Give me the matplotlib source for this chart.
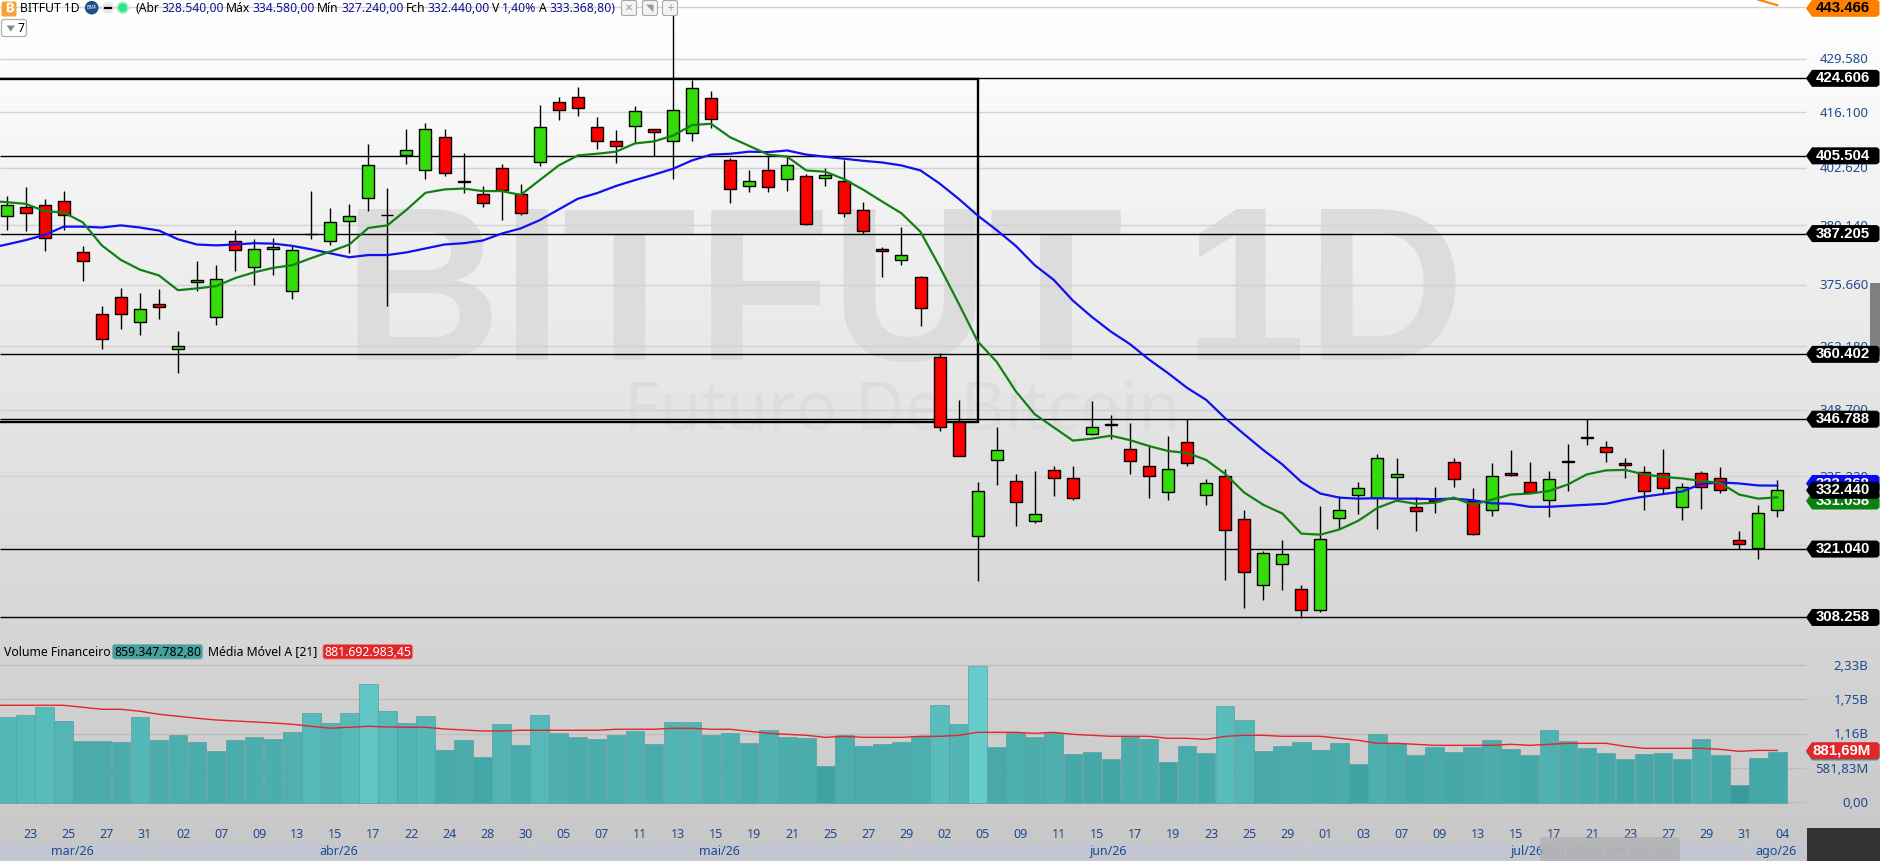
import numpy as np
import matplotlib
matplotlib.use("Agg")
import matplotlib.pyplot as plt
from matplotlib.patches import Rectangle, Polygon, Circle, FancyBboxPatch
from matplotlib.transforms import blended_transform_factory

plt.rcParams['font.family'] = ['Noto Sans', 'DejaVu Sans']

opens = [391.2,393.3,393.8,394.7,382.9,369.1,372.9,367.5,371.3,361.6,
376.2,368.4,385.4,379.6,383.6,374.2,387.1,385.6,390.0,395.4,
391.6,405.7,402.2,410.0,399.5,396.4,402.7,396.4,404.1,418.6,
419.9,412.4,409.0,412.7,411.9,409.2,411.0,419.6,404.6,398.2,
402.0,399.9,400.6,400.3,399.6,392.6,383.6,381.2,377.4,359.9,
346.3,323.6,338.5,334.3,326.4,336.5,334.9,343.8,345.7,340.7,
337.3,332.1,342.2,331.6,335.3,326.8,314.2,318.2,313.5,309.7,
327.0,331.6,331.0,335.1,329.2,330.8,338.1,330.4,328.6,335.9,
334.1,330.6,338.2,343.1,341.1,337.8,336.1,335.9,329.2,335.9,
334.9,322.8,321.2,328.54]
highs = [396.0,398.1,395.2,397.1,384.4,370.9,375.0,373.8,374.7,365.4,
381.0,380.1,388.0,385.9,386.2,384.6,397.1,393.1,394.1,408.3,
397.8,412.0,413.5,412.0,406.3,398.3,403.5,398.8,418.0,420.0,
422.4,415.0,411.8,417.7,412.0,445.5,424.2,421.5,404.9,402.1,
405.6,405.6,401.1,402.5,404.4,394.6,384.1,388.7,377.5,360.6,
350.8,334.0,345.1,335.6,336.2,337.2,337.2,350.6,347.7,346.1,
341.5,343.3,346.8,334.6,336.6,328.6,320.7,322.7,314.3,329.4,
331.4,334.0,339.7,338.9,331.2,333.0,338.8,332.8,337.8,340.5,
338.0,336.2,341.7,346.8,342.3,338.9,337.2,340.7,333.8,336.2,
337.0,324.5,329.6,334.58]
lows = [388.0,387.8,383.3,388.1,376.4,361.5,365.8,364.5,368.0,356.4,
374.3,366.7,378.6,375.6,377.9,372.5,386.0,384.6,382.7,392.5,
371.0,403.5,399.9,400.7,396.7,393.4,390.3,391.5,403.1,414.3,
415.3,407.1,403.7,408.5,405.5,399.9,409.1,412.3,394.2,397.0,
397.0,397.2,389.2,398.4,391.1,387.2,377.3,380.0,366.5,344.4,
339.2,315.1,333.5,325.5,326.1,331.3,330.5,343.5,342.7,335.6,
330.9,330.6,337.2,329.5,315.2,310.0,311.5,313.4,308.2,309.3,
324.9,327.7,324.8,330.8,324.5,327.9,333.0,323.7,327.5,335.2,
332.0,327.3,332.3,341.5,338.0,334.8,328.5,331.9,326.7,328.8,
332.0,321.0,319.2,327.24]
closes = [393.8,391.9,386.1,391.4,380.9,363.7,369.1,370.2,370.6,362.1,
376.7,376.9,383.4,383.6,384.1,383.4,387.0,389.8,391.2,403.4,
391.4,407.0,411.9,401.3,399.3,394.2,397.3,391.9,412.4,416.7,
417.2,409.2,408.0,416.4,411.2,416.7,422.1,414.4,397.5,399.6,
398.0,403.4,389.3,400.8,391.9,387.7,383.2,382.3,370.4,345.2,
339.3,332.3,340.5,330.2,327.8,334.9,330.9,345.2,345.5,338.3,
335.3,336.7,337.9,333.9,324.6,316.7,320.2,320.1,309.7,323.0,
328.6,332.9,338.9,335.7,328.4,330.4,334.7,324.0,335.3,335.5,
332.1,334.7,338.0,342.9,340.1,337.4,332.3,332.9,333.1,333.1,
332.5,322.0,328.0,332.44]
# the averages begin one session before the first visible candle
ma_fast = [394.8,394.5,394.1,392.4,392.1,389.8,384.5,381.2,379.0,377.7,374.4,
374.8,375.3,377.1,378.4,379.4,380.0,381.6,383.1,384.7,388.5,
389.1,392.7,396.7,397.5,397.7,397.1,397.1,396.2,399.7,403.2,
405.6,406.0,406.5,408.5,409.0,410.4,413.0,413.3,410.0,407.9,
405.8,405.3,402.0,401.7,399.9,397.4,394.6,391.9,387.6,379.7,
371.5,363.2,358.8,352.6,347.8,345.1,342.4,342.8,343.4,342.5,
341.3,340.3,339.9,338.5,335.7,332.0,329.6,327.9,324.0,323.8,
324.8,326.5,329.0,330.4,329.8,330.0,331.0,329.6,330.6,331.6,
331.8,332.3,333.6,335.6,336.4,336.5,335.6,335.1,334.8,334.3,
333.9,331.6,330.8,331.06]
ma_slow = [383.8,384.7,385.7,386.9,388.8,388.8,388.6,389.1,388.6,387.9,385.9,
384.7,384.5,384.7,385.0,384.9,384.4,383.6,382.7,381.8,382.3,
382.3,382.9,383.8,384.7,385.0,385.6,387.2,388.4,390.3,392.8,
395.3,396.6,398.3,399.7,401.0,402.4,404.4,405.8,406.0,406.5,
406.4,406.8,405.8,405.3,404.8,404.3,403.9,403.2,402.0,398.9,
395.3,391.4,388.0,384.4,380.0,376.7,372.1,368.5,365.3,362.6,
359.3,356.4,353.3,350.8,347.0,343.7,340.5,337.6,334.1,331.8,
331.0,330.8,330.9,330.8,330.8,330.7,330.8,330.5,329.9,329.8,
329.2,329.2,329.4,329.6,329.8,330.6,331.2,331.7,332.2,333.7,
334.0,333.8,333.4,333.37]
ma_long_tail = [444.9, 443.466]  # last two sessions of the orange average

volume_m = [1451,1485,1621,1383,1043,1043,1026,1451,1060,1145,
1026,873,1060,1111,1077,1196,1519,1349,1519,2012,
1553,1349,1468,890,1060,771,1332,975,1485,1179,
1111,1077,1145,1213,992,1366,1366,1145,1179,1009,
1230,1111,1094,618,1145,958,992,1026,1128,1655,
1332,2319,941,1179,1111,1179,822,856,737,1111,
1077,686,958,839,1638,1400,873,958,1026,890,
1009,652,1162,1009,805,941,856,941,1060,907,
805,1230,1043,924,839,737,822,839,737,1077,
805,295,754,859]
vol_ma_m = [1650,1650,1650,1650,1650,1616,1582,1582,1548,1497,1463,
1429,1400,1383,1366,1349,1327,1293,1259,1276,1293,
1281,1276,1276,1247,1230,1213,1213,1225,1225,1225,
1225,1225,1242,1242,1242,1259,1259,1242,1242,1207,
1173,1156,1139,1105,1122,1105,1105,1105,1122,1122,
1139,1190,1190,1190,1173,1190,1156,1139,1122,1122,
1122,1088,1088,1071,1122,1139,1139,1122,1122,1122,
1088,1054,1003,1003,986,969,969,969,969,986,
969,986,1003,1003,1003,952,918,918,918,918,
901,867,884,881]

day_labels = ["23","25","27","31","02","07","09","13","15","17","22","24","28","30",
"05","07","11","13","15","19","21","25","27","29","02","05","09","11","15","17","19","23","25","29",
"01","03","07","09","13","15","17","21","23","27","29","31","04"]
month_labels = ["mar/26","abr/26","mai/26","jun/26","jul/26","ago/26"]
price_grid = [443.06,429.58,416.10,402.62,389.14,375.66,362.18,348.70,335.22,321.74]
price_grid_labels = ["443.060","429.580","416.100","402.620","389.140","375.660","362.180","348.700","335.220","321.740"]
levels = [424.606,405.504,387.205,360.402,346.788,321.040,308.258]
level_labels = ["424.606","405.504","387.205","360.402","346.788","321.040","308.258"]
vol_grid = [0,581.83,1163.66,1750,2330]
vol_grid_labels = ["0,00","581,83M","1,16B","1,75B","2,33B"]

W, H = 1880, 861
NAVY = "#1F4B8F"
fig = plt.figure(figsize=(W/100, H/100), dpi=100)

# background gradient and watermark
bg = fig.add_axes([0, 0, 1, 1], zorder=0)
grad = np.interp(np.linspace(0, 1, H), [0, 830/H, 1], [1.0, 0.785, 0.785])[:, None]
bg.imshow(grad, cmap="gray", vmin=0, vmax=1, extent=(0, W, H, 0), aspect="auto")
bg.set_xlim(0, W); bg.set_ylim(H, 0); bg.axis("off")
bg.text(904, 360, "BITFUT 1D", ha="center", va="baseline", fontsize=158, fontweight="bold",
        family="Liberation Sans", color="#DCDCDC")
bg.text(902, 430, "Futuro De Bitcoin", ha="center", va="baseline", fontsize=49,
        family="Noto Sans", color="#DDDDDD")

# shared x mapping: candle i centre = 6.6 + 19.04 i px
x_left, x_right = (0-6.6)/19.04, (W-6.6)/19.04
x_plot_end = (1806-6.6)/19.04
n = len(opens)
idx = np.arange(n)
idx_ma = np.arange(-1, n)

# price panel
ax = fig.add_axes([0, 1-640/H, 1, 640/H], zorder=2)
ax.patch.set_alpha(0)
ax.set_yscale("log")
ax.set_xlim(x_left, x_right)
ax.set_ylim(304.16, 444.83)
ax.axis("off")
ax.hlines(price_grid, x_left, x_plot_end, color="#D2D2D2", lw=1.0, zorder=1)
ax.hlines(levels, x_left, x_plot_end, color="black", lw=1.0, zorder=2)

# drawn rectangle
box_x = (978-6.6)/19.04
ax.plot([x_left, box_x, box_x, x_left], [424.5, 424.5, 346.15, 346.15], color="black", lw=1.7, zorder=2.5,
        solid_joinstyle="miter")

o, h, l, c = map(np.array, (opens, highs, lows, closes))
ax.vlines(idx, l, h, color="black", lw=1.0, zorder=3)
up = c >= o
tops, bots = np.maximum(o, c), np.minimum(o, c)
cols = np.where(up, "#35DB0A", "#FF0000")
ax.bar(idx, tops-bots, bottom=bots, width=0.63, color=cols, edgecolor="black", lw=1.0, zorder=4)
ax.plot(idx_ma, ma_slow, color="#1010F0", lw=1.6, zorder=5)
ax.plot(idx_ma, ma_fast, color="#128012", lw=1.6, zorder=6)
ax.plot(idx[-2:], ma_long_tail, color="#FF8000", lw=1.5, zorder=5)

# volume panel
ax2 = fig.add_axes([0, 1-830/H, 1, 190/H], zorder=2)
ax2.patch.set_alpha(0)
ax2.set_xlim(x_left, x_right)
ax2.set_ylim(-471, 2760)
ax2.axis("off")
ax2.hlines(vol_grid, x_left, x_plot_end, color="#BDBDBD", lw=1.0, zorder=1)
vol = np.array(volume_m, dtype=float)
stops_v = [295, 800, 1100, 1600, 2319]
stops = np.array([[0x37,0x9B,0x9B],[0x45,0xA8,0xA8],[0x4C,0xAD,0xAD],[0x58,0xBC,0xBC],[0x66,0xCC,0xCC]])/255
bar_cols = np.column_stack([np.interp(vol, stops_v, stops[:, k]) for k in range(3)])
VOL_BASE = -17
ax2.bar(idx, vol-VOL_BASE, bottom=VOL_BASE, width=0.98, color=bar_cols, edgecolor="#5E9E9E", lw=0.5, zorder=2)
ax2.plot(idx_ma, vol_ma_m, color="#E2262A", lw=1.0, zorder=3)

# overlay in pixel coordinates for the chrome of the platform
ov = fig.add_axes([0, 0, 1, 1], zorder=5)
ov.patch.set_alpha(0)
ov.set_xlim(0, W); ov.set_ylim(H, 0); ov.axis("off")

def ypx(axis, v):
    return ov.transData.inverted().transform(axis.transData.transform((0, v)))[1]

# price tick labels
for v, s in zip(price_grid[1:], price_grid_labels[1:]):
    ov.text(1868.5, ypx(ax, v)+1, s, ha="right", va="center", fontsize=9.5, color=NAVY)

def tag(y, fc, txt, tc="white", z=3, xc=1842.5, fs=10.8):
    ov.add_patch(Polygon([(1806, y), (1812, y-8.5), (1877, y-8.5), (1879.5, y-6.5), (1879.5, y+6.5),
                          (1877, y+8.5), (1812, y+8.5)], closed=True, fc=fc, ec="none", zorder=z))
    ov.text(xc, y, txt, ha="center", va="center", fontsize=fs, fontweight="bold", color=tc, zorder=z+0.1,
            family="Liberation Sans")

# side handle
ov.add_patch(Rectangle((1870, 283), 10, 73, fc="#7F7F7F", ec="none", zorder=2))
for v, s in zip(levels, level_labels):
    tag(ypx(ax, v), "black", s)
tag(8.3, "#FF8000", "443.466", tc="black")
tag(483.5, "#0A0AF5", "333.368", z=3)
tag(501, "#0A8010", "331.058", z=3.2)
tag(ypx(ax, closes[-1]), "black", "332.440", z=3.4)

# volume labels
for v, s in zip(vol_grid, vol_grid_labels):
    ov.text(1868.5, ypx(ax2, v)+1, s, ha="right", va="center", fontsize=9.5, color=NAVY)
tag(752, "#3F9E9E", "859,35M", z=3)
tag(750.7, "#E2262A", "881,69M", z=3.2, xc=1842)

# x labels
tr = blended_transform_factory(ax.transData, ov.transData)
for i, s in zip(range(1, n, 2), day_labels):
    ov.text(i+0.27, 835, s, transform=tr, ha="center", va="center", fontsize=9, color=NAVY)

bands = [(0,148),(149,529),(531,909),(911,1308),(1310,1746),(1748,1804.5)]
centers = [72.6,339,719,1108.6,1527,1775.5]
for (a, b), cx, s in zip(bands, centers, month_labels):
    ov.add_patch(Rectangle((a, 844), b-a, 15, fc="#C2C6D0", ec="none"))
    ov.text(cx, 851.5, s, ha="center", va="center", fontsize=9, color=NAVY)
ov.add_patch(Rectangle((1807, 828), 73, 33, fc="#333333", ec="none"))
ov.add_patch(FancyBboxPatch((1541, 838), 138, 23, boxstyle="round,pad=1,rounding_size=3",
                            fc="#A8A8A8", ec="none", alpha=0.55, zorder=3))
ov.text(1609, 851, "Microfone em uso por:", ha="center", va="center", fontsize=9.5, color="#AFAFAF", zorder=3.1)

# header
ov.add_patch(FancyBboxPatch((2, 2), 14, 14, boxstyle="round,pad=0.5,rounding_size=2", fc="#F7A23B", ec="none"))
ov.text(9.2, 9, "₿", ha="center", va="center", fontsize=9.5, fontweight="bold", color="white",
        family=["Inter", "Roboto", "Open Sans", "Lato", "Noto Sans", "Noto Sans CJK SC", "DejaVu Sans"])
ov.text(20, 8, "BITFUT 1D", ha="left", va="center", fontsize=8.8, fontweight="medium", color="black")
ov.plot([84, 130], [7.7, 7.7], color="#DDDDDD", lw=0.8)
ov.add_patch(Circle((91.7, 7.7), 6.8, fc="#1B4F8A", ec="none", zorder=2))
ov.text(91.7, 7.7, "BMF", ha="center", va="center", fontsize=3.5, color="white", zorder=2.1)
ov.add_patch(Circle((108, 7.7), 6, fc="#E8E8E8", ec="none", zorder=2))
ov.plot([105, 111], [7.7, 7.7], color="black", lw=1.6, zorder=2.1)
ov.add_patch(Circle((122.7, 7.7), 6.5, fc="#B8F0D0", ec="none", zorder=2))
ov.add_patch(Circle((122.7, 7.7), 4.5, fc="#2EE58A", ec="none", zorder=2.1))
segs = [(135,"(Abr","black"),(161.7,"328.540,00","#12128C"),(226,"Máx","black"),(252.7,"334.580,00","#12128C"),
        (317,"Mín","black"),(341.6,"327.240,00","#12128C"),(406,"Fch","black"),(427.4,"332.440,00","#12128C"),
        (492,"V","black"),(502,"1,40%","#12128C"),(538.6,"A","black"),(549.6,"333.368,80)","#12128C")]
for x, s, col in segs:
    ov.text(x, 8, s, ha="left", va="center", fontsize=8.8, color=col, fontweight="medium" if col == "black" else "normal")
for bx, sym in [(629,"✕"),(650,"◥"),(670,"+")]:
    ov.add_patch(FancyBboxPatch((bx-7, 1), 14, 14, boxstyle="round,pad=0.5,rounding_size=2", fc="#F4F4F4", ec="#A8A8A8", lw=0.8, zorder=2))
    ov.text(bx, 8, sym, ha="center", va="center", fontsize=7, color="#999999", family="DejaVu Sans", zorder=2.1)
ov.add_patch(FancyBboxPatch((2, 20), 24, 16, boxstyle="round,pad=0.5,rounding_size=2.5", fc="white", ec="#B0B0B0", lw=0.9))
ov.add_patch(Polygon([(6.5, 25.5), (15, 25.5), (10.8, 31.5)], closed=True, fc="#888888", ec="none", zorder=2))
ov.text(21.5, 28.5, "7", ha="center", va="center", fontsize=8.8, color="black", fontweight="medium")

# indicator legend
ov.text(4, 652, "Volume Financeiro", ha="left", va="center", fontsize=8.8, color="black", fontweight="medium")
ov.add_patch(FancyBboxPatch((113, 645), 89, 13.5, boxstyle="round,pad=0.5,rounding_size=2.5", fc="#45A0A0", ec="#77B5B5", lw=0.6))
ov.text(157.5, 652, "859.347.782,80", ha="center", va="center", fontsize=8.8, color="black")
ov.text(208, 652, "Média Móvel A [21]", ha="left", va="center", fontsize=8.8, color="black", fontweight="medium")
ov.add_patch(FancyBboxPatch((323.5, 645), 88.5, 13.5, boxstyle="round,pad=0.5,rounding_size=2.5", fc="#E2262A", ec="#EE7777", lw=0.6))
ov.text(367.7, 652, "881.692.983,45", ha="center", va="center", fontsize=8.8, color="white", fontweight="medium")

assert all(len(a) == n for a in (highs, lows, closes, volume_m))
assert all(len(a) == n+1 for a in (ma_fast, ma_slow, vol_ma_m))
fig.savefig("out.png", dpi=100)
